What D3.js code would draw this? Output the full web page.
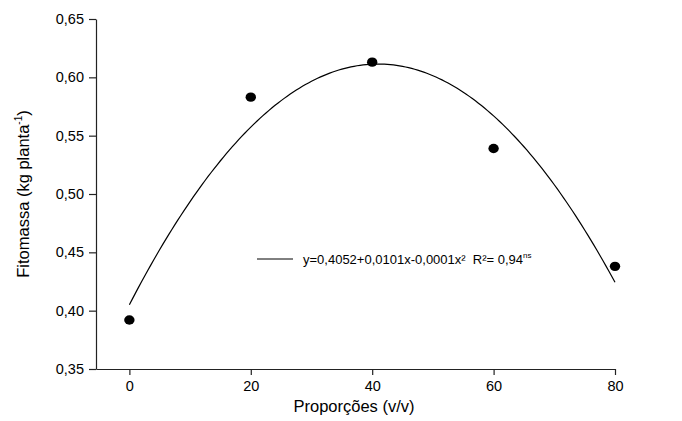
<!DOCTYPE html>
<html>
<head>
<meta charset="utf-8">
<script src="https://cdn.jsdelivr.net/npm/d3@7"></script>
<style>
  body { margin: 0; background: #fff; }
  svg { display: block; font-family: "Liberation Sans", Arial, sans-serif; }
  .axis path, .axis line { stroke: #222; stroke-width: 1.2; }
  .axis text { font-size: 14.5px; fill: #000; }
</style>
</head>
<body>
<div id="chart"></div>
<script>
// fitomassa x proporcoes, pontos e ajuste quadratico

const proporcoes = [0, 20, 40, 60, 80];
const fitomassa = [0.392, 0.583, 0.613, 0.539, 0.438];
const xTicks = [0, 20, 40, 60, 80];
const yTicks = [0.35, 0.40, 0.45, 0.50, 0.55, 0.60, 0.65];
const equacao = "y=0,4052+0,0101x-0,0001x²  R²= 0,94";

const width = 682;
const height = 421;

const svg = d3.select("#chart").append("svg")
  .attr("width", width)
  .attr("height", height);

const xScale = d3.scaleLinear()
  .domain([-5.5, 80])
  .range([96, 615]);

const yScale = d3.scaleLinear()
  .domain([0.35, 0.65])
  .range([369, 19]);

const virgula = d => d3.format(".2f")(d).replace(".", ",");

svg.append("g")
  .attr("class", "axis")
  .attr("transform", `translate(0, ${yScale(0.35)})`)
  .call(d3.axisBottom(xScale).tickValues(xTicks).tickSize(6).tickSizeOuter(0).tickPadding(6));

svg.append("g")
  .attr("class", "axis")
  .attr("transform", `translate(${xScale(-5.5)}, 0)`)
  .call(d3.axisLeft(yScale).tickValues(yTicks).tickFormat(virgula).tickSize(7).tickSizeOuter(0).tickPadding(5));

// ajuste quadratico por minimos quadrados
const n = proporcoes.length;
const S = k => d3.sum(proporcoes, x => Math.pow(x, k));
const T = k => d3.sum(proporcoes, (x, i) => Math.pow(x, k) * fitomassa[i]);
const A = [[n, S(1), S(2)], [S(1), S(2), S(3)], [S(2), S(3), S(4)]];
const B = [T(0), T(1), T(2)];
function resolve(A, B) {
  const M = A.map((r, i) => r.concat(B[i]));
  for (let c = 0; c < 3; c++) {
    for (let r = c + 1; r < 3; r++) {
      const f = M[r][c] / M[c][c];
      for (let k = c; k < 4; k++) M[r][k] -= f * M[c][k];
    }
  }
  const s = [0, 0, 0];
  for (let r = 2; r >= 0; r--) {
    let v = M[r][3];
    for (let k = r + 1; k < 3; k++) v -= M[r][k] * s[k];
    s[r] = v / M[r][r];
  }
  return s;
}
const coef = resolve(A, B);
const curva = d3.range(0, 80.5, 0.5).map(x => [x, coef[0] + coef[1] * x + coef[2] * x * x]);

const linha = d3.line()
  .x(d => xScale(d[0]))
  .y(d => yScale(d[1]));

svg.append("path")
  .datum(curva)
  .attr("fill", "none")
  .attr("stroke", "#000")
  .attr("stroke-width", 1.2)
  .attr("d", linha);

svg.selectAll(".ponto")
  .data(proporcoes)
  .enter()
  .append("ellipse")
  .attr("class", "ponto")
  .attr("cx", d => xScale(d))
  .attr("cy", (d, i) => yScale(fitomassa[i]))
  .attr("rx", 5.2)
  .attr("ry", 4.7)
  .attr("fill", "#000");

// legenda
const leg = svg.append("g").attr("transform", "translate(257, 259)");
leg.append("line")
  .attr("x1", 0).attr("x2", 36)
  .attr("stroke", "#000").attr("stroke-width", 1);
const legTxt = leg.append("text")
  .attr("x", 46).attr("y", 4.5)
  .attr("font-size", 13)
  .style("white-space", "pre");
legTxt.append("tspan").text(equacao);
legTxt.append("tspan").attr("font-size", 8).attr("dy", -6).text("ns");

// titulos
svg.append("text")
  .attr("x", xScale(37))
  .attr("y", 412)
  .attr("text-anchor", "middle")
  .attr("font-size", 16.5)
  .text("Proporções (v/v)");

const yTit = svg.append("text")
  .attr("transform", `translate(29, ${yScale(0.5)}) rotate(-90)`)
  .attr("text-anchor", "middle")
  .attr("font-size", 16.5);
yTit.append("tspan").text("Fitomassa (kg planta");
yTit.append("tspan").attr("font-size", 10).attr("dy", -7).text("-1");
yTit.append("tspan").attr("dy", 7).text(")");
</script>
</body>
</html>
